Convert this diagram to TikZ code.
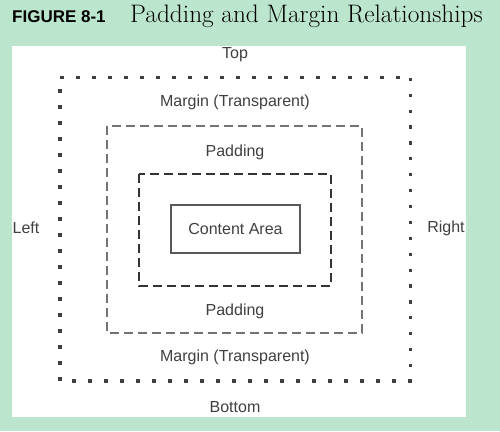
\documentclass[tikz,border=0pt]{standalone}
\usepackage{fontspec}
\setsansfont{Liberation Sans}
\begin{document}
\begin{tikzpicture}[x=1pt,y=-1pt,
  lbl/.style={font=\sffamily\fontsize{16}{18}\selectfont, text=black!75, inner sep=0pt},
  mdot/.style={fill=black!75},
  padbox/.style={draw=black!55, line width=2.4pt, dash pattern=on 9pt off 5pt},
  bordbox/.style={draw=black!80, line width=2.8pt, dash pattern=on 9pt off 5pt},
  contbox/.style={draw=black!65, line width=1.5pt, minimum width=129pt, minimum height=48pt, inner sep=0pt}]
\fill[fill={rgb,255:red,188;green,229;blue,206}] (0,0) rectangle (500,431);
\useasboundingbox (0,0) rectangle (500,431);
\fill[white] (12,46) rectangle (466,417);
\node[anchor=west, font=\sffamily\bfseries\fontsize{17}{19}\selectfont, inner sep=0pt] (fig) at (12,17) {FIGURE 8-1};
\node[anchor=west, font=\rmfamily\fontsize{25.3}{28}\selectfont, inner sep=0pt] (title) at (130,16) {Padding and Margin Relationships};
% margin (dotted)
\foreach \i in {0,...,21} {\fill[mdot] ({62+16*\i-1.6},76.1) rectangle ++(3.2,3.2);}
\foreach \i in {0,...,21} {\fill[mdot] ({74+16*\i-1.6},379.4) rectangle ++(3.2,3.2);}
\foreach \i in {0,...,18} {\fill[mdot] (58.4,{91+16*\i-1.6}) rectangle ++(3.2,3.2);}
\foreach \i in {0,...,19} {\fill[mdot] (408.9,{79.3+15.9*\i-1.6}) rectangle ++(3.2,3.2);}
\draw[padbox] (107,126) rectangle (362,333);
\draw[bordbox] (139,174) rectangle (331,286);
\node[contbox, lbl] (content) at (235.5,229) {Content Area};
\node[lbl] (top) at (235,55) {Top};
\node[lbl] (m1) at (235,102) {Margin (Transparent)};
\node[lbl] (p1) at (235,152) {Padding};
\node[lbl] (p2) at (235,311) {Padding};
\node[lbl] (m2) at (235,357) {Margin (Transparent)};
\node[lbl] (bot) at (235,407) {Bottom};
\node[lbl] (left) at (26,228) {Left};
\node[lbl] (right) at (446,228) {Right};
\end{tikzpicture}
\end{document}
